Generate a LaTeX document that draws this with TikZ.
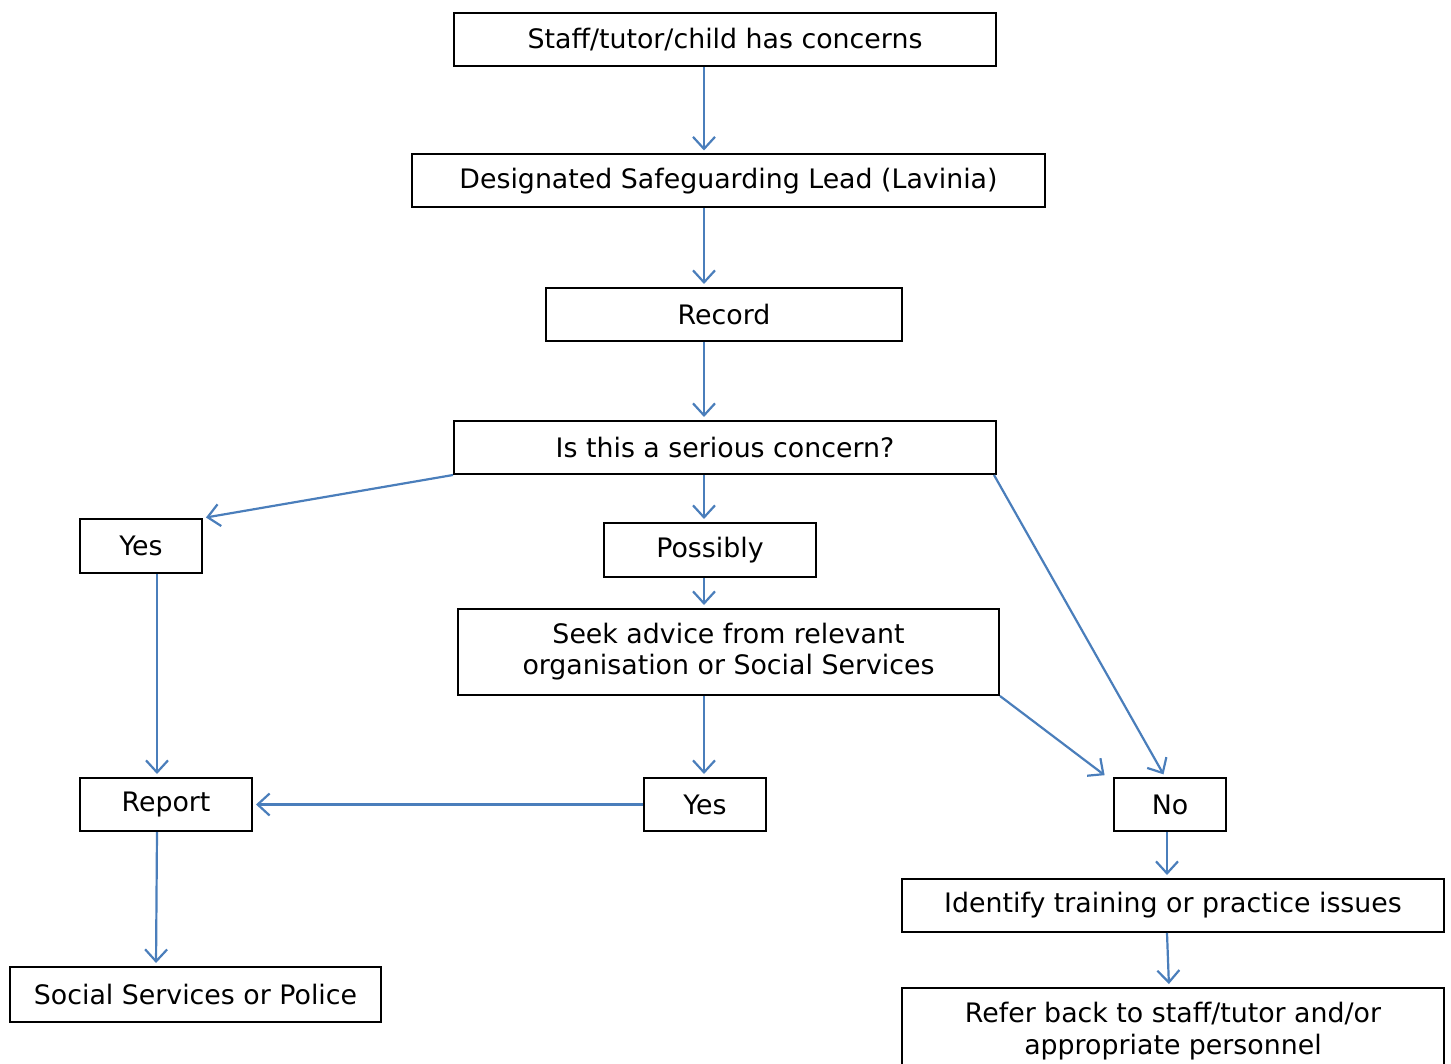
\documentclass[tikz,border=0pt]{standalone}
\usepackage{fontspec}
\setmainfont{DejaVu Sans}
\usetikzlibrary{arrows.meta}
\definecolor{flowblue}{RGB}{74,126,187}

\begin{document}
\begin{tikzpicture}[x=0.5pt, y=-0.5pt,
    box/.style={draw, line width=1pt, inner sep=0pt, align=center,
        font=\fontsize{13.4}{15.5}\selectfont, minimum height=26.5pt},
    flow/.style={draw=flowblue, line width=1.1pt,
        -{Straight Barb[length=6pt, width=11pt, line width=1.1pt]}, shorten >=1.5pt}]
    \useasboundingbox (0,0) rectangle (1451,1064);
    \clip (0,0) rectangle (1451,1064);
    % CAIXAS
    \node[box, minimum width=271pt] (concern) at (725,39.5) {Staff/tutor/child has concerns};
    \node[box, minimum width=316.5pt] (lead) at (728.5,181) {Designated Safeguarding Lead (Lavinia)};
    \node[box, minimum width=178pt] (record) at (724,314.5) {Record};
    \node[box, minimum width=271pt] (serious) at (725,447.5) {Is this a serious concern?};
    \node[box, minimum width=61pt, minimum height=27pt] (yesA) at (141,546) {Yes};
    \node[box, minimum width=106pt, minimum height=27pt] (possibly) at (710,550) {Possibly};
    \node[box, minimum width=270.5pt, minimum height=43pt] (advice) at (728.5,652)
        {Seek advice from relevant\\organisation or Social Services};
    \node[box, minimum width=86pt] (report) at (166,804.5) {Report};
    \node[box, minimum width=61pt] (yesB) at (705,804.5) {Yes};
    \node[box, minimum width=56pt] (no) at (1170,804.5) {No};
    \node[box, minimum width=271pt] (training) at (1173,905.5) {Identify training or practice issues};
    \node[box, minimum width=185.5pt, minimum height=27.5pt] (police) at (195.5,994.5) {Social Services or Police};
    \node[box, minimum width=271pt, minimum height=43pt, font=\fontsize{13.4}{16}\selectfont] (refer) at (1173,1031)
        {Refer back to staff/tutor and/or\\appropriate personnel};
    % COLONNE DELLE FRECCE
    \coordinate (mid) at (704,0);
    \coordinate (left) at (157,0);
    \coordinate (right) at (1167,0);
    \draw[flow] (concern.south -| mid) -- (lead.north -| mid);
    \draw[flow] (lead.south -| mid) -- (record.north -| mid);
    \draw[flow] (record.south -| mid) -- (serious.north -| mid);
    \draw[flow] (serious.south west) -- (yesA.north east);
    \draw[flow] (serious.south -| mid) -- (possibly.north -| mid);
    \draw[flow] ([xshift=-1.5pt]serious.south east) -- ([xshift=-2.5pt]no.north);
    \draw[flow] (possibly.south -| mid) -- (advice.north -| mid);
    \draw[flow] (advice.south -| mid) -- (yesB.north -| mid);
    \draw[flow] (advice.south east) -- ([xshift=-3pt]no.north west);
    \draw[flow] (yesA.south -| left) -- (report.north -| left);
    \draw[flow] (yesB.west) -- (report.east);
    \draw[flow] (report.south -| left) -- ([xshift=-0.5pt]police.north -| left);
    \draw[flow] (no.south -| right) -- (training.north -| right);
    \draw[flow] (training.south -| right) -- ([xshift=1pt]refer.north -| right);
\end{tikzpicture}
\end{document}
